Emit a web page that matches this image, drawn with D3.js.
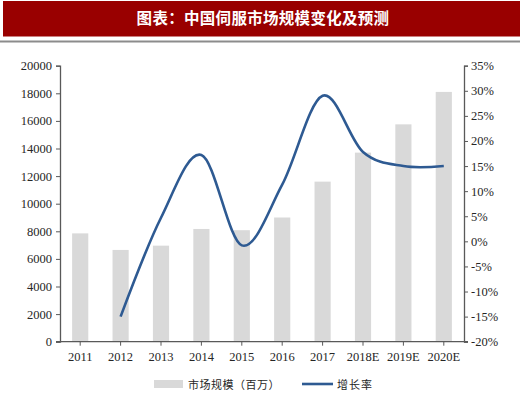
<!DOCTYPE html>
<html><head><meta charset="utf-8">
<script src="https://cdn.jsdelivr.net/npm/d3@7"></script>
<style>body{margin:0;background:#fff;}svg{display:block;}</style>
</head><body>
<svg id="c" width="520" height="397"></svg>
<script>
const title = "图表：中国伺服市场规模变化及预测";
const categories = ["2011","2012","2013","2014","2015","2016","2017","2018E","2019E","2020E"];
const marketSize = [7850,6650,6960,8170,8080,9000,11600,13700,15750,18100];
const growthCats = ["2012","2013","2014","2015","2016","2017","2018E","2019E","2020E"];
const growthRate = [-15.0,4.7,17.2,-0.8,11.3,29.0,17.8,15.0,15.0];
const leftTicks = [0,2000,4000,6000,8000,10000,12000,14000,16000,18000,20000];
const rightTicks = [-20,-15,-10,-5,0,5,10,15,20,25,30,35];
const legendBar = "市场规模（百万）";
const legendLine = "增长率";

const svg = d3.select("#c");
const font = "'Liberation Serif','Times New Roman',serif";
// title banner
svg.append("rect").attr("x",3).attr("y",1).attr("width",517).attr("height",35.5).attr("fill","#990000");
svg.append("line").attr("x1",0).attr("x2",520).attr("y1",41.5).attr("y2",41.5).attr("stroke","#8c8c8c").attr("stroke-width",2);
svg.append("text").attr("x",263).attr("y",24).attr("text-anchor","middle").attr("fill","#fff")
  .attr("font-family","'Noto Sans CJK SC',sans-serif").attr("font-weight","bold").attr("font-size",15.5)
  .attr("letter-spacing",0.3).text(title);

const L=60,R=464,T=65.7,B=341.7;
const x = d3.scaleBand().domain(categories).range([L,R]).paddingInner(0.6).paddingOuter(0.3);
const xc = d => x(d)+x.bandwidth()/2;
const yL = d3.scaleLinear().domain([0,20000]).range([B,T]);
const yR = d3.scaleLinear().domain([-20,35]).range([B,T]);

svg.append("g").selectAll("rect").data(categories).join("rect")
  .attr("x",d=>x(d)).attr("width",x.bandwidth())
  .attr("y",(d,i)=>yL(marketSize[i])).attr("height",(d,i)=>B-yL(marketSize[i]))
  .attr("fill","#d9d9d9");

const line = d3.line().x((d,i)=>xc(growthCats[i])).y(d=>yR(d)).curve(d3.curveCardinal);
svg.append("path").datum(growthRate).attr("d",line).attr("fill","none")
  .attr("stroke","#2e5a92").attr("stroke-width",2.6);

const axisColor="#595959";
const gL = svg.append("g").attr("transform",`translate(${L},0)`)
  .call(d3.axisLeft(yL).tickValues(leftTicks).tickSize(4).tickPadding(4).tickFormat(d3.format("d")));
const gR = svg.append("g").attr("transform",`translate(${R},0)`)
  .call(d3.axisRight(yR).tickValues(rightTicks).tickSize(4).tickPadding(3).tickFormat(d=>d+"%"));
const gX = svg.append("g").attr("transform",`translate(0,${B})`)
  .call(d3.axisBottom(x).tickSize(4).tickPadding(6));
[gL,gR,gX].forEach(g=>{
  g.select(".domain").attr("stroke",axisColor).attr("stroke-width",1.3);
  g.selectAll(".tick line").attr("stroke",axisColor);
  g.selectAll("text").attr("font-family",font).attr("font-size",12.5).attr("fill","#262626");
});
gX.select(".domain").attr("d",`M${L-4},0H${R+4}`);

// legend
svg.append("rect").attr("x",154).attr("y",380).attr("width",29).attr("height",8).attr("fill","#d9d9d9");
svg.append("text").attr("x",188).attr("y",388.5).attr("font-family","'Noto Sans CJK SC',sans-serif")
  .attr("font-size",11).attr("fill","#262626").attr("letter-spacing",0.5).text(legendBar);
svg.append("line").attr("x1",302).attr("x2",333).attr("y1",384).attr("y2",384).attr("stroke","#2e5a92").attr("stroke-width",2.6);
svg.append("text").attr("x",337).attr("y",388.5).attr("font-family","'Noto Sans CJK SC',sans-serif")
  .attr("font-size",11).attr("fill","#262626").attr("letter-spacing",1).text(legendLine);
</script>
</body></html>
